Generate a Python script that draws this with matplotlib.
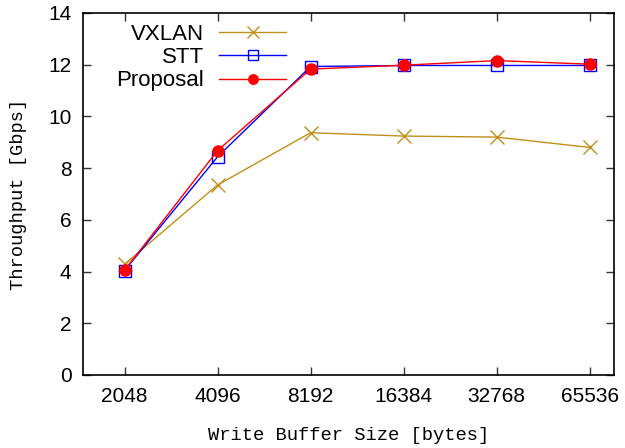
import matplotlib
matplotlib.use('Agg')
import matplotlib.pyplot as plt

# Data
buffer_sizes = ['2048', '4096', '8192', '16384', '32768', '65536']
vxlan = [4.28, 7.35, 9.37, 9.24, 9.20, 8.80]
stt = [4.04, 8.44, 11.93, 11.97, 11.97, 11.97]
proposal = [4.05, 8.68, 11.83, 11.98, 12.16, 12.02]

fig = plt.figure(figsize=(6.25, 4.48), dpi=100)
ax = fig.add_axes([0.1323, 0.163, 0.850, 0.808])

x = range(len(buffer_sizes))
ax.plot(x, vxlan, color='#c0901a', lw=1.0, marker='x', ms=10, mew=1.0, label='VXLAN')
ax.plot(x, stt, color='#0000ff', lw=1.0, marker='s', ms=8.5, mfc='none', mew=1.0, label='STT')
ax.plot(x, proposal, color='#ff0000', lw=1.0, marker='o', ms=8, label='Proposal')

ax.set_xlim(-0.45, 5.26)
ax.set_ylim(0, 14)
ax.set_xticks(list(x))
ax.set_xticklabels(buffer_sizes)
ax.set_yticks(range(0, 15, 2))

for lab in ax.get_xticklabels() + ax.get_yticklabels():
    lab.set_fontfamily('Liberation Sans')
    lab.set_fontsize(15)

ax.tick_params(direction='in', length=6, width=1, top=True, right=True, colors='#333333',
               labelcolor='black')
ax.tick_params(axis='x', pad=9)
ax.tick_params(axis='y', pad=8)
for s in ax.spines.values():
    s.set_linewidth(1.2)
    s.set_color('black')

ax.set_xlabel('Write Buffer Size [bytes]', family='Liberation Mono', size=13.5, labelpad=15)
ax.set_ylabel('Throughput [Gbps]', family='Liberation Mono', size=13.5, labelpad=15)

leg = ax.legend(loc='upper right', bbox_to_anchor=(286 / 625, 424 / 448),
                bbox_transform=fig.transFigure, markerfirst=False,
                frameon=False, handlelength=3.0, handletextpad=0.68, labelspacing=0.1,
                borderaxespad=0, borderpad=0, markerscale=0.85,
                prop={'family': 'Liberation Sans', 'size': 16})

fig.savefig('out.png', dpi=100)
